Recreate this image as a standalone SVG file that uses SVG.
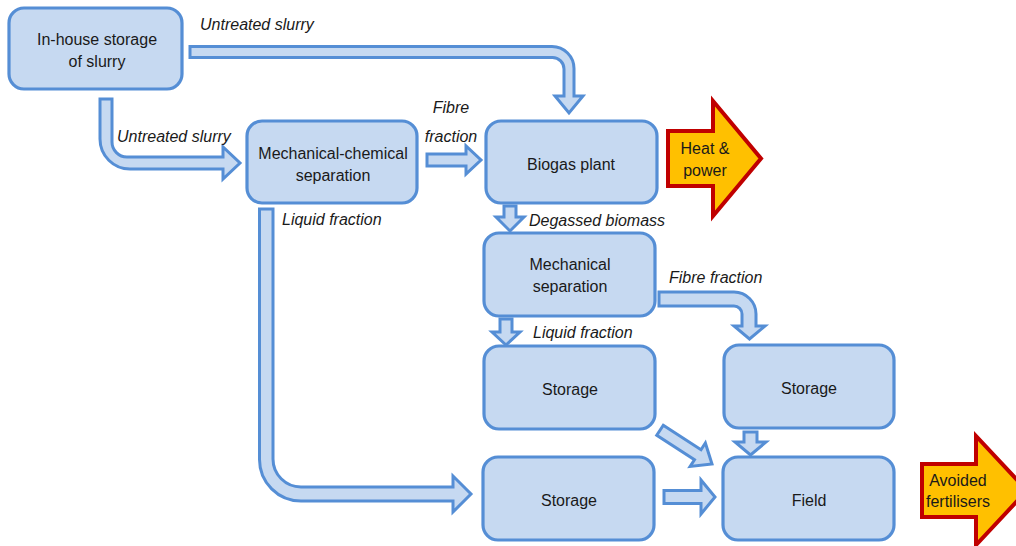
<svg xmlns="http://www.w3.org/2000/svg" width="1016" height="546" viewBox="0 0 1016 546">
<style>
.box{fill:#c6d9f1;stroke:#558ed5;stroke-width:3.2}
.arr{fill:#c6d9f1;stroke:#558ed5;stroke-width:3;stroke-linejoin:miter}
.big{fill:#ffc000;stroke:#c00000;stroke-width:4;stroke-linejoin:miter}
text{font-family:"Liberation Sans",Arial,sans-serif;font-size:16px;fill:#1a1a1a}
.n{text-anchor:middle}
.l{font-style:italic}
</style>
<rect width="1016" height="546" fill="#ffffff"/>
<g id="connectors">
<path class="arr" d="M190,46.5 H552 A22,22 0 0 1 574,68.5 V96 H583 L569,113 L555,96 H564 V69 A11.5,11.5 0 0 0 552.5,57.5 H190 Z"/>
<path class="arr" d="M100,99 H112 V142 A15,15 0 0 0 127,157 H223 V147 L240,163 L223,179 V169 H130 A30,30 0 0 1 100,139 Z"/>
<path class="arr" d="M427,154 H466 V146 L481,160 L466,174 V166 H427 Z"/>
<path class="arr" d="M504,206 H516 V217 H524 L510,231 L496,217 H504 Z"/>
<path class="arr" d="M500,319 H512 V332 H520 L506,345 L492,332 H500 Z"/>
<path class="arr" d="M659,292 H734 A22,22 0 0 1 756,314 V326 H765 L749.5,339 L734,326 H742 V314 A8,8 0 0 0 734,306 H659 Z"/>
<path class="arr" d="M259.5,209 H273 V459 A28,28 0 0 0 301,487 H453 V476 L471,494 L453,512 V501 H301 A41.5,41.5 0 0 1 259.5,459.5 Z"/>
<path class="arr" transform="translate(712,464) rotate(33)" d="M-62,-6 H-17 V-14 L0,0 L-17,14 V6 H-62 Z"/>
<path class="arr" d="M664,490.5 H701 V480 L715,497 L701,514 V503.5 H664 Z"/>
<path class="arr" d="M744,432 H757 V442 H766 L750.5,455 L735,442 H744 Z"/>
</g>
<g id="heat-power">
<path class="big" d="M668,131 H713 V101 L761,158.5 L713,216 V186 H668 Z"/>
<text class="n" x="705" y="154">Heat &amp;</text>
<text class="n" x="705" y="176">power</text>
</g>
<g id="avoided-fertilisers">
<path class="big" d="M922,464 H976 V436 L1027,490.5 L976,545 V517 H922 Z"/>
<text class="n" x="958" y="486">Avoided</text>
<text class="n" x="958" y="507">fertilisers</text>
</g>
<g id="in-house-storage">
<rect class="box" x="9" y="8" width="173" height="81" rx="15"/>
<text class="n" x="97" y="45">In-house storage</text>
<text class="n" x="97" y="67">of slurry</text>
</g>
<g id="mech-chem-separation">
<rect class="box" x="247" y="121" width="170" height="82" rx="15"/>
<text class="n" x="333" y="159">Mechanical-chemical</text>
<text class="n" x="333" y="181">separation</text>
</g>
<g id="biogas-plant">
<rect class="box" x="486" y="121" width="171" height="82" rx="15"/>
<text class="n" x="571" y="170">Biogas plant</text>
</g>
<g id="mech-separation">
<rect class="box" x="484" y="233" width="171" height="83" rx="15"/>
<text class="n" x="570" y="270">Mechanical</text>
<text class="n" x="570" y="292">separation</text>
</g>
<g id="storage-liquid">
<rect class="box" x="484" y="346" width="171" height="83" rx="15"/>
<text class="n" x="570" y="395">Storage</text>
</g>
<g id="storage-fibre">
<rect class="box" x="724" y="345" width="170" height="83" rx="15"/>
<text class="n" x="809" y="394">Storage</text>
</g>
<g id="storage-bottom">
<rect class="box" x="483" y="457" width="171" height="83" rx="15"/>
<text class="n" x="569" y="506">Storage</text>
</g>
<g id="field">
<rect class="box" x="723" y="457" width="171" height="83" rx="15"/>
<text class="n" x="809" y="506">Field</text>
</g>
<g id="labels">
<text class="l" x="200" y="30">Untreated slurry</text>
<text class="l" x="117" y="142">Untreated slurry</text>
<text class="l n" x="451" y="113">Fibre</text>
<text class="l n" x="451" y="142">fraction</text>
<text class="l" x="282" y="225">Liquid fraction</text>
<text class="l" x="529" y="226">Degassed biomass</text>
<text class="l" x="669" y="283">Fibre fraction</text>
<text class="l" x="533" y="338">Liquid fraction</text>
</g>
</svg>
